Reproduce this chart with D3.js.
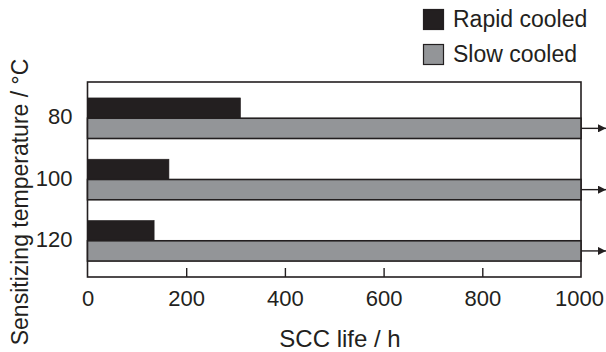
<!DOCTYPE html>
<html>
<head>
<meta charset="utf-8">
<script src="https://cdn.jsdelivr.net/npm/d3@7"></script>
<style>
  body { margin: 0; background: #fff; }
  svg { display: block; font-family: "Liberation Sans", Arial, sans-serif; }
</style>
</head>
<body>
<svg width="606" height="352"></svg>
<script>
// values
const temps = ["80", "100", "120"];
const series = ["Rapid cooled", "Slow cooled"];
const rapid = [310, 165, 135];
const slow = [1000, 1000, 1000];
const xTicks = [0, 200, 400, 600, 800, 1000];

const ink = "#231f20";
const colors = ["#231f20", "#939598"];

let svg = d3.select("svg");
let plotLeft = 87.5, plotRight = 581, plotTop = 82, plotBottom = 277;

let x = d3.scaleLinear()
    .domain([0, 1000])
    .range([plotLeft, plotRight]);

let y = d3.scaleBand()
    .domain(temps)
    .range([plotTop, plotBottom])
    .paddingInner(0.338)
    .paddingOuter(0.26);

let ySub = d3.scaleBand()
    .domain(series)
    .range([0, y.bandwidth()]);

// arrow marker for values beyond the axis
svg.append("defs").append("marker")
    .attr("id", "arrow")
    .attr("viewBox", "0 0 10 10")
    .attr("refX", 10)
    .attr("refY", 5)
    .attr("markerWidth", 8)
    .attr("markerHeight", 8)
    .attr("markerUnits", "userSpaceOnUse")
    .attr("orient", "auto")
    .append("path")
    .attr("d", "M0,0 L10,5 L0,10 Z")
    .attr("fill", ink);

// frame
svg.append("rect")
    .attr("x", plotLeft)
    .attr("y", plotTop)
    .attr("width", plotRight - plotLeft)
    .attr("height", plotBottom - plotTop)
    .attr("fill", "#fff")
    .attr("stroke", ink)
    .attr("stroke-width", 1.6);

let rows = temps.map((t, i) => ({ t: t, vals: [rapid[i], slow[i]] }));

let groups = svg.append("g")
    .selectAll("g")
    .data(rows)
    .enter()
    .append("g")
    .attr("transform", d => `translate(0,${y(d.t)})`);

groups.selectAll("rect")
    .data(d => d.vals.map((v, j) => ({ s: series[j], v: v, j: j })))
    .enter()
    .append("rect")
    .attr("x", x(0))
    .attr("y", d => ySub(d.s))
    .attr("width", d => x(d.v) - x(0))
    .attr("height", ySub.bandwidth())
    .attr("fill", d => colors[d.j])
    .attr("stroke", ink)
    .attr("stroke-width", d => d.j === 1 ? 1.6 : 0.6);

// arrows on slow-cooled bars (not fractured within test time)
groups.append("line")
    .attr("x1", (d, i) => x(slow[i]))
    .attr("x2", (d, i) => x(slow[i]) + 25)
    .attr("y1", ySub("Slow cooled") + ySub.bandwidth() / 2)
    .attr("y2", ySub("Slow cooled") + ySub.bandwidth() / 2)
    .attr("stroke", ink)
    .attr("stroke-width", 1.4)
    .attr("marker-end", "url(#arrow)");

// x axis
let xAxis = svg.append("g")
    .attr("transform", `translate(0,${plotBottom})`)
    .call(d3.axisBottom(x)
        .tickValues(xTicks)
        .tickFormat(d3.format("d"))
        .tickSizeInner(-9)
        .tickSizeOuter(0)
        .tickPadding(13));
xAxis.select(".domain").remove();
xAxis.selectAll("line").attr("stroke", ink).attr("stroke-width", 1.4)
    .filter(d => d === 0 || d === 1000).remove();
xAxis.selectAll("text")
    .attr("fill", ink)
    .attr("dx", d => d === 1000 ? -2 : 0)
    .style("font-size", "22px")
    .style("font-family", "'Liberation Sans', Arial, sans-serif");

// y axis labels
let yAxis = svg.append("g")
    .attr("transform", `translate(${plotLeft},0)`)
    .call(d3.axisLeft(y).tickSize(0).tickPadding(15));
yAxis.select(".domain").remove();
yAxis.selectAll("text")
    .attr("fill", ink)
    .attr("y", -1)
    .style("font-size", "22px")
    .style("font-family", "'Liberation Sans', Arial, sans-serif");

// axis titles
svg.append("text")
    .attr("x", 340)
    .attr("y", 346.5)
    .attr("text-anchor", "middle")
    .attr("fill", ink)
    .style("font-size", "24px")
    .text("SCC life / h");

svg.append("text")
    .attr("transform", "translate(28,202) rotate(-90)")
    .attr("text-anchor", "middle")
    .attr("fill", ink)
    .style("font-size", "23px")
    .text("Sensitizing temperature / \u00B0C");

// legend
let legend = svg.append("g")
    .attr("transform", "translate(423,9)");

let items = legend.selectAll("g")
    .data(series)
    .enter()
    .append("g")
    .attr("transform", (d, i) => `translate(0,${i * 35})`);

items.append("rect")
    .attr("x", 0.5)
    .attr("y", 0.5)
    .attr("width", 20)
    .attr("height", 20)
    .attr("fill", (d, i) => colors[i])
    .attr("stroke", ink)
    .attr("stroke-width", 1.2);

items.append("text")
    .attr("x", 30)
    .attr("y", 18)
    .attr("fill", ink)
    .style("font-size", "23px")
    .text(d => d);
</script>
</body>
</html>
